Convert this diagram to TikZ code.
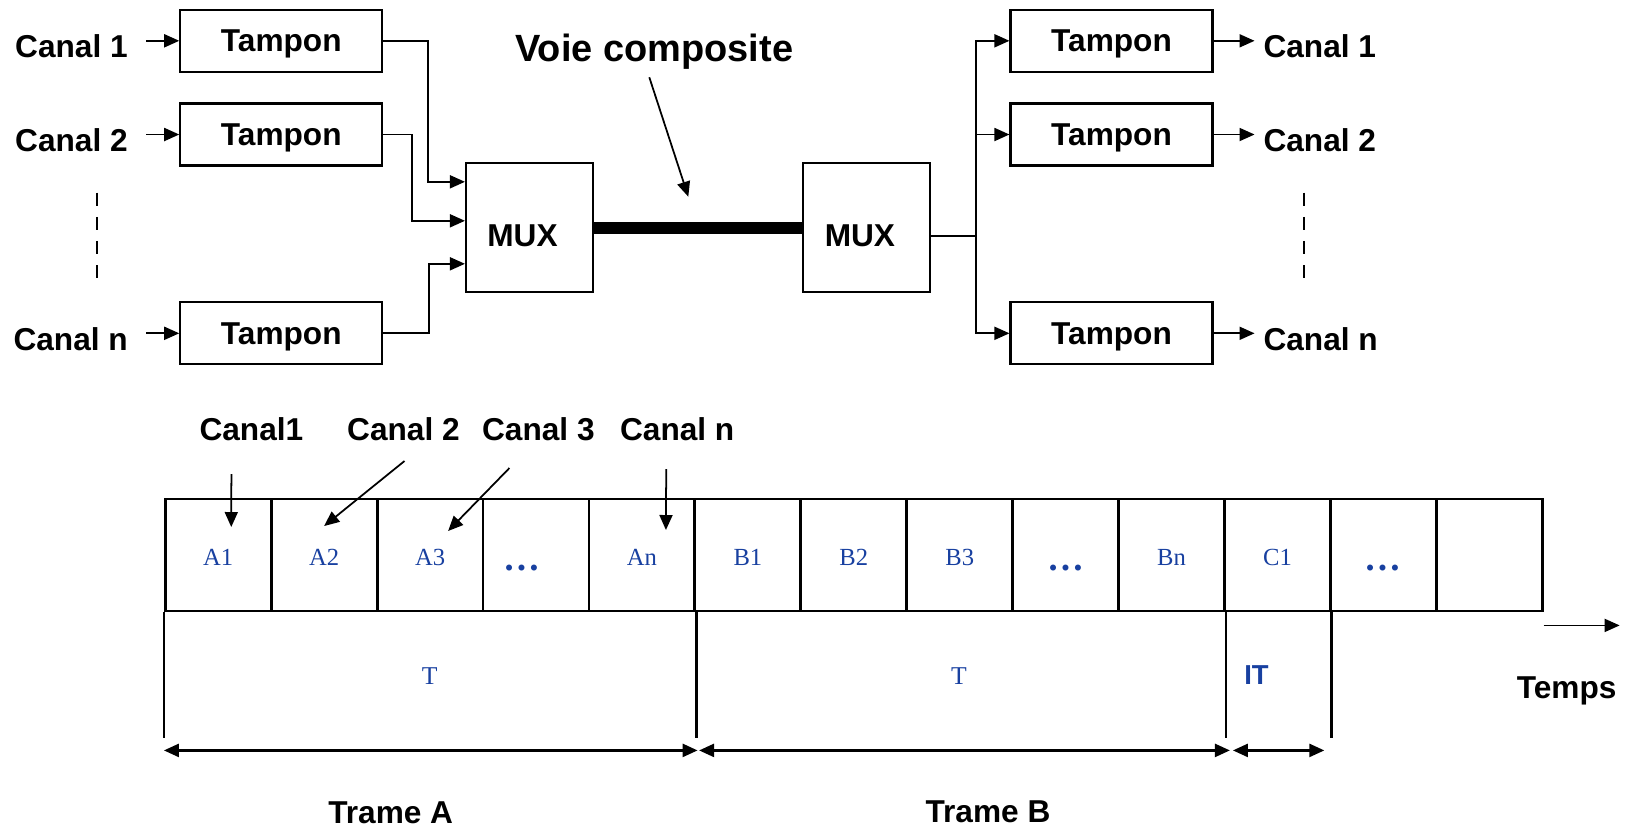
\documentclass[tikz,border=0pt]{standalone}
\usepackage{fontspec}
\setmainfont{Liberation Serif}
\setsansfont{Liberation Sans}
\usetikzlibrary{arrows.meta}
\definecolor{slotblue}{RGB}{24,64,160}
\newcommand{\dts}{\raisebox{-0.45mm}{\fontsize{10.5}{12}\selectfont\bfseries\ldots}}
\newcommand{\dtsl}{\hspace*{-2.8mm}\dts}

\begin{document}
\begin{tikzpicture}[x=0.1mm,y=-0.1mm,
  >={Triangle[length=1.5mm,width=1.3mm]},
  lab/.style={font=\sffamily\bfseries\fontsize{9}{11}\selectfont,inner sep=0pt},
  buf/.style={draw,line width=0.6pt,minimum width=20.2mm,minimum height=6.2mm,inner sep=0pt,
    text depth=0pt,font=\sffamily\bfseries\fontsize{9}{11}\selectfont},
  mux/.style={draw,line width=0.6pt,minimum width=12.7mm,minimum height=12.9mm,inner sep=0pt,
    text height=3.7mm,text depth=0pt,font=\sffamily\bfseries\fontsize{9}{11}\selectfont},
  wire/.style={line width=0.5pt},
  slot/.style={draw,line width=0.8pt,minimum width=10.59mm,minimum height=11.2mm,inner sep=0pt,
    text height=2.14mm,text depth=0pt,text=slotblue,font=\fontsize{7}{8}\selectfont},
  dimarr/.style={<->,line width=0.7pt}]
\useasboundingbox (0,0) rectangle (1635,827);

% emission
\node[buf] (t1) at (281.3,40.8) {Tampon};
\node[buf] (t2) at (281.3,134.5) {Tampon};
\node[buf] (tn) at (281.3,333.3) {Tampon};
\node[lab,anchor=east,outer xsep=1.85mm] (in1) at ([xshift=-3.3mm,yshift=-0.55mm]t1.west) {Canal 1};
\node[lab,anchor=east,outer xsep=1.85mm] (in2) at ([xshift=-3.3mm,yshift=-0.55mm]t2.west) {Canal 2};
\node[lab,anchor=east,outer xsep=1.85mm] (inn) at ([xshift=-3.3mm,yshift=-0.55mm]tn.west) {Canal n};
\draw[wire,->] (in1.east |- t1.west) -- (t1.west);
\draw[wire,->] (in2.east |- t2.west) -- (t2.west);
\draw[wire,->] (inn.east |- tn.west) -- (tn.west);
\draw[line width=0.75pt,dash pattern=on 1.33mm off 1.08mm] (97,192.7) -- (97,278.3);

\node[mux] (m1) at (529.5,227.8) {MUX\hspace*{1.4mm}};
\node[mux] (m2) at (866.4,227.8) {MUX\hspace*{1.3mm}};
\draw[wire,->] (t1.east) -- ++(44.5,0) |- ([yshift=4.6mm]m1.west);
\draw[wire,->] (t2.east) -- ++(28.5,0) |- ([yshift=0.7mm]m1.west);
\draw[wire,->] (tn.east) -- ++(45.5,0) |- ([yshift=-3.6mm]m1.west);
\draw[line width=3.5pt] (m1) -- (m2);

\node[lab,font=\sffamily\bfseries\fontsize{10.8}{13}\selectfont,anchor=base] (voie) at (654.3,61.7) {Voie composite};
\coordinate (vtip) at (688.3,196.7);
\draw[wire,->] ([xshift=-0.5mm,yshift=-0.7mm]voie.south) -- (vtip);

% reception
\node[buf] (r1) at (1111.5,40.8) {Tampon};
\node[buf] (r2) at (1111.5,134.5) {Tampon};
\node[buf] (rn) at (1111.5,333.3) {Tampon};
\coordinate (split) at ([xshift=4.5mm,yshift=-0.8mm]m2.east);
\draw[wire] ([yshift=-0.8mm]m2.east) -- (split);
\draw[wire,->] (split) |- (r1.west);
\draw[wire,->] (split) |- (r2.west);
\draw[wire,->] (split) |- (rn.west);
\node[lab,anchor=west,outer xsep=0.9mm] (out1) at ([xshift=4.1mm,yshift=-0.55mm]r1.east) {Canal 1};
\node[lab,anchor=west,outer xsep=0.9mm] (out2) at ([xshift=4.1mm,yshift=-0.55mm]r2.east) {Canal 2};
\node[lab,anchor=west,outer xsep=0.9mm] (outn) at ([xshift=4.1mm,yshift=-0.55mm]rn.east) {Canal n};
\draw[wire,->] (r1.east) -- (r1.east -| out1.west);
\draw[wire,->] (r2.east) -- (r2.east -| out2.west);
\draw[wire,->] (rn.east) -- (rn.east -| outn.west);
\draw[line width=0.75pt,dash pattern=on 1.33mm off 1.08mm] (1304,192.7) -- (1304,278.3);

% trames
\foreach \txt [count=\i] in {A1,A2,A3,\dtsl,An,B1,B2,B3,\dts,Bn,C1,\dts,{}}
  \node[slot] (c\i) at ({165.3+105.92*(\i-0.5)},555) {\txt};

\node[lab,anchor=base] (k1) at (251.4,440) {Canal1};
\node[lab,anchor=base] (k2) at (403.5,440) {Canal 2};
\node[lab,anchor=base] (k3) at (538.4,440) {Canal 3};
\node[lab,anchor=base] (kn) at (677.2,440) {Canal n};
\draw[wire,->] ([xshift=-2mm,yshift=-3.3mm]k1.south) -- ([xshift=1.3mm,yshift=2.8mm]c1.center);
\draw[wire,->] ([xshift=0.1mm,yshift=-2mm]k2.south) -- ([yshift=2.9mm]c2.center);
\draw[wire,->] ([xshift=-2.9mm,yshift=-2.7mm]k3.south) -- ([xshift=1.8mm,yshift=2.4mm]c3.center);
\draw[wire,->] ([xshift=-1.1mm,yshift=-2.8mm]kn.south) -- ([xshift=2.4mm,yshift=2.5mm]c5.center);

\coordinate (v0) at ([yshift=-12.6mm]c1.south west);
\coordinate (v1) at ([yshift=-12.6mm]c5.south east);
\coordinate (v2) at ([yshift=-12.6mm]c10.south east);
\coordinate (v3) at ([yshift=-12.6mm]c11.south east);
\draw[line width=0.8pt] (c1.south west) -- (v0);
\draw[line width=0.8pt] (c5.south east) -- (v1);
\draw[line width=0.8pt] (c10.south east) -- (v2);
\draw[line width=0.8pt] (c11.south east) -- (v3);
\draw[dimarr] ([yshift=-1.2mm]v0) -- ([xshift=0.13mm,yshift=-1.2mm]v1);
\draw[dimarr] ([xshift=0.28mm,yshift=-1.2mm]v1) -- ([xshift=0.4mm,yshift=-1.2mm]v2);
\draw[dimarr] ([xshift=0.7mm,yshift=-1.2mm]v2) -- ([xshift=-0.75mm,yshift=-1.2mm]v3);

\node[text=slotblue,font=\fontsize{7.3}{9}\selectfont] (ta) at (429.7,676) {T};
\node[text=slotblue,font=\fontsize{7.3}{9}\selectfont] (tb) at (959,676) {T};
\node[text=slotblue,font=\sffamily\bfseries\fontsize{7.8}{9}\selectfont] (it) at (1256.5,675) {IT};
\node[lab,anchor=base] (temps) at (1566.7,698) {Temps};
\draw[wire,->] ([yshift=-1.3mm]c13.south east) -- ++(7.6mm,0);
\node[lab,anchor=base] (fa) at (390.7,823) {Trame A};
\node[lab,anchor=base] (fb) at (988,822) {Trame B};
\end{tikzpicture}
\end{document}
